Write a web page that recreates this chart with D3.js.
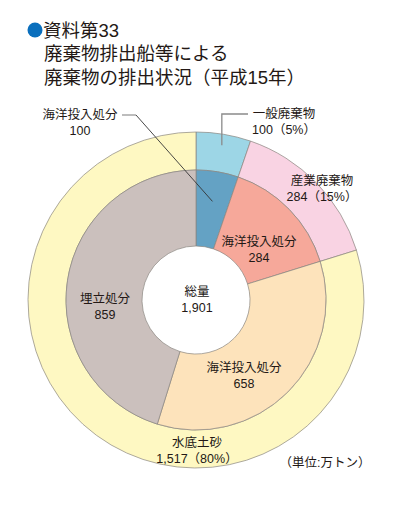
<!DOCTYPE html>
<html><head><meta charset="utf-8">
<script src="https://cdn.jsdelivr.net/npm/d3@7"></script>
<style>
html,body{margin:0;padding:0;background:#fff;}
svg{display:block;font-family:"Liberation Sans","Noto Sans CJK JP",sans-serif;}
</style></head>
<body><svg id="c" width="409" height="518"></svg>
<script>
// Data
const outerCats = ["一般廃棄物","産業廃棄物","水底土砂"];
const outerVals = [100, 284, 1517];
const outerPct = ["5%","15%","80%"];
const innerCats = ["海洋投入処分","海洋投入処分","海洋投入処分","埋立処分"];
const innerVals = [100, 284, 658, 859];
const totalLabel = "総量";
const totalVal = 1901;
const titleLines = ["資料第33","廃棄物排出船等による","廃棄物の排出状況（平成15年）"];
const unitLabel = "（単位:万トン）";

const outerColors = ["#9dd6e6","#f9d3e3","#fef8c2"];
const innerColors = ["#64a2c4","#f6a89a","#fde3bb","#cbc0bd"];

const svg = d3.select("#c");
const cx = 196, cy = 300;
const rHole = 54, rMid = 130, rOut = 168;
const fmt = d3.format(",");

// Title
svg.append("circle").attr("cx",35).attr("cy",30).attr("r",7.5).attr("fill","#0a6fbd");
const title = svg.append("g").attr("fill","#231815").attr("font-size",18.5);
titleLines.forEach((t,i)=>{
  title.append("text").attr("x",i===0?43:44).attr("y",30+i*23.5)
    .attr("dominant-baseline","central").text(t);
});

const g = svg.append("g").attr("transform",`translate(${cx},${cy})`);
const pie = d3.pie().sort(null).value(d=>d);
const outerArcs = pie(outerVals);
const innerArcs = pie(innerVals);
const arcOuter = d3.arc().innerRadius(rMid).outerRadius(rOut);
const arcInner = d3.arc().innerRadius(rHole).outerRadius(rMid);

g.selectAll("path.o").data(outerArcs).join("path").attr("class","o")
  .attr("d",arcOuter).attr("fill",(d,i)=>outerColors[i])
  .attr("stroke","#8a8580").attr("stroke-width",0.7);
g.selectAll("path.i").data(innerArcs).join("path").attr("class","i")
  .attr("d",arcInner).attr("fill",(d,i)=>innerColors[i])
  .attr("stroke","#8a8580").attr("stroke-width",0.7);

// Leader lines
function pt(a, r){ const m=(a.startAngle+a.endAngle)/2; return [cx+r*Math.sin(m), cy-r*Math.cos(m)]; }
const p1 = pt(innerArcs[0], 100);
svg.append("polyline").attr("points",`122,115 136,115`).attr("fill","none").attr("stroke","#9a9a9a").attr("stroke-width",1.3);
svg.append("line").attr("x1",136).attr("y1",115).attr("x2",p1[0]).attr("y2",p1[1])
  .attr("stroke","#333").attr("stroke-width",0.9);
const p2 = pt(outerArcs[0], 157);
svg.append("polyline").attr("points",`248,114 ${p2[0]},114 ${p2[0]},${p2[1]}`)
  .attr("fill","none").attr("stroke","#8a8a8a").attr("stroke-width",1.3);

// Labels
const labels = svg.append("g").attr("fill","#231815").attr("font-size",12.5).attr("text-anchor","middle");
function lab(x,y,l1,l2){
  labels.append("text").attr("x",x).attr("y",y).attr("dominant-baseline","central").text(l1);
  labels.append("text").attr("x",x).attr("y",y+16).attr("dominant-baseline","central").text(l2);
}
lab(80,115, innerCats[0], fmt(innerVals[0]));
lab(284,114, outerCats[0], `${fmt(outerVals[0])}（${outerPct[0]}）`);
lab(322,181, outerCats[1], `${fmt(outerVals[1])}（${outerPct[1]}）`);
lab(259,242, innerCats[1], fmt(innerVals[1]));
lab(197,292, totalLabel, fmt(totalVal));
lab(105,299, innerCats[3], fmt(innerVals[3]));
lab(244,368, innerCats[2], fmt(innerVals[2]));
lab(197,443, outerCats[2], `${fmt(outerVals[2])}（${outerPct[2]}）`);
labels.append("text").attr("x",325).attr("y",463).attr("dominant-baseline","central").text(unitLabel);
</script></body></html>
